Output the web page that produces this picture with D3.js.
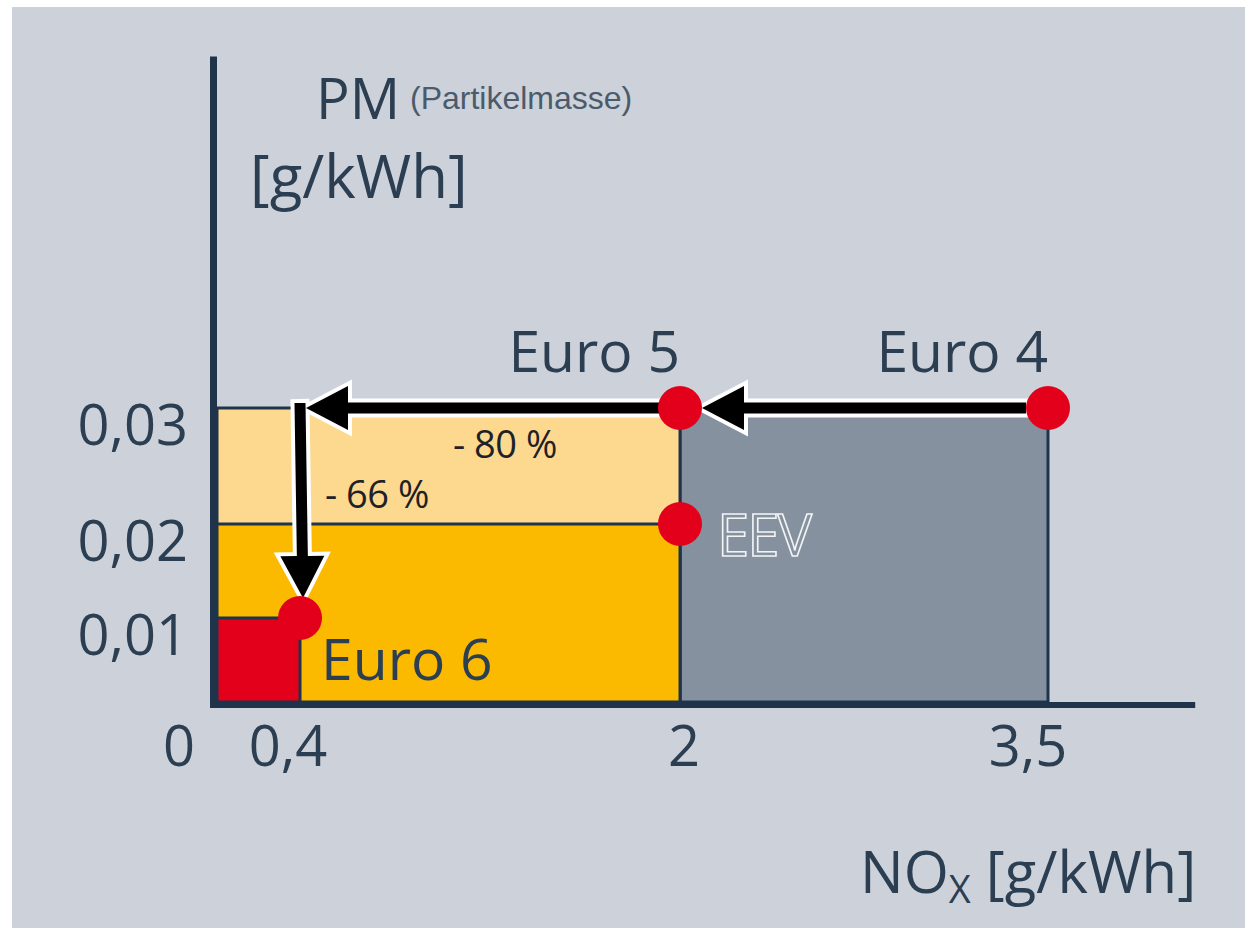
<!DOCTYPE html>
<html>
<head>
<meta charset="utf-8">
<script src="https://cdn.jsdelivr.net/npm/d3@7"></script>
<style>
  html, body { margin: 0; padding: 0; background: #ffffff; }
  svg { display: block; }
</style>
</head>
<body>
<svg id="chart" width="1245" height="930"></svg>
<script>
// Emission limits for heavy-duty engines: NOx vs. particulate mass
const standards = ["Euro 4", "Euro 5", "EEV", "Euro 6"];
const noxLimits = [3.5, 2, 2, 0.4];      // g/kWh
const pmLimits  = [0.03, 0.03, 0.02, 0.01]; // g/kWh

// Zones below each limit (drawn back to front)
const zoneNames = ["Euro 4", "Euro 5", "EEV", "Euro 6"];
const zoneX0    = [2, 0, 0, 0];
const zoneX1    = [3.5, 2, 2, 0.4];
const zoneY1    = [0.03, 0.03, 0.02, 0.01];
const zoneFill  = ["#86919f", "#fdd98f", "#fbb900", "#e2001a"];

// Axis ticks
const xTicks = [0, 0.4, 2, 3.5];
const xTickLabels = ["0", "0,4", "2", "3,5"];
const yTicks = [0.01, 0.02, 0.03];
const yTickLabels = ["0,01", "0,02", "0,03"];
const xAxisEnd = 4.1;
const yAxisEnd = 0.0603;

// Reduction labels
const reductionText = ["- 80 %", "- 66 %"];

const svg = d3.select("#chart");
const W = 1245, H = 930;
const ink = "#1f344a";
const textCol = "#2b3e52";

// Schematic (non-uniform) scales
const x = d3.scaleLinear().domain([0, 0.4, 2, 3.5]).range([217, 300, 680, 1048]);
const y = d3.scaleLinear().domain([0, 0.01, 0.02, 0.03]).range([702, 618, 524, 408]);

// Page background panel
svg.append("rect").attr("x", 0).attr("y", 0).attr("width", W).attr("height", H).attr("fill", "#ffffff");
svg.append("rect").attr("x", 12).attr("y", 7).attr("width", W - 12).attr("height", 921).attr("fill", "#cdd2da");

// Zones
const zones = zoneNames.map((n, i) => ({ n, x0: zoneX0[i], x1: zoneX1[i], y1: zoneY1[i], fill: zoneFill[i] }));
svg.append("g").selectAll("rect").data(zones).join("rect")
  .attr("x", d => x(d.x0))
  .attr("y", d => y(d.y1))
  .attr("width", d => x(d.x1) - x(d.x0))
  .attr("height", d => y(0) - y(d.y1))
  .attr("fill", d => d.fill)
  .attr("stroke", ink)
  .attr("stroke-width", 3);

// Axes
const axes = svg.append("g").attr("stroke", ink).attr("stroke-linecap", "butt");
axes.append("line")
  .attr("x1", x(0) - 3.5).attr("x2", x(0) - 3.5)
  .attr("y1", y(yAxisEnd)).attr("y2", y(0) + 6)
  .attr("stroke-width", 7);
axes.append("line")
  .attr("x1", x(0) - 7).attr("x2", x(xAxisEnd))
  .attr("y1", y(0) + 3).attr("y2", y(0) + 3)
  .attr("stroke-width", 6);

// Tick labels
const tickFont = "'Open Sans', sans-serif";
svg.append("g").selectAll("text").data(yTicks).join("text")
  .attr("x", 188)
  .attr("y", d => y(d) + 37)
  .attr("text-anchor", "end")
  .attr("font-family", tickFont)
  .attr("font-size", 56)
  .attr("fill", textCol)
  .text((d, i) => yTickLabels[i]);

svg.append("g").selectAll("text").data(xTicks).join("text")
  .attr("x", d => d === 0 ? x(d) - 38 : x(d) - 12 + (d === 2 ? 16 : 0) - (d === 3.5 ? 8 : 0))
  .attr("y", 766)
  .attr("text-anchor", "middle")
  .attr("font-family", tickFont)
  .attr("font-size", 56)
  .attr("fill", textCol)
  .text((d, i) => xTickLabels[i]);

// Axis titles
svg.append("text").attr("x", 316).attr("y", 119)
  .attr("font-family", tickFont).attr("font-size", 56).attr("fill", textCol)
  .text("PM");
svg.append("text").attr("x", 410).attr("y", 109)
  .attr("font-family", "'Liberation Sans', Arial, sans-serif").attr("font-size", 32)
  .attr("fill", "#4b5b6c").text("(Partikelmasse)");
svg.append("text").attr("x", 250).attr("y", 198)
  .attr("font-family", tickFont).attr("font-size", 60).attr("fill", textCol)
  .text("[g/kWh]");

const nox = svg.append("text").attr("x", 860).attr("y", 893)
  .attr("font-family", tickFont).attr("font-size", 58).attr("fill", textCol);
nox.append("tspan").text("NO");
nox.append("tspan").attr("font-size", 38).attr("dy", 10).text("X");
nox.append("tspan").attr("dy", -10).text(" [g/kWh]");

// Arrows (black with white outline)
function arrowPath(x0, y0, x1, y1, shaft, headLen, headHalf) {
  const dx = x1 - x0, dy = y1 - y0;
  const len = Math.hypot(dx, dy);
  const ux = dx / len, uy = dy / len;
  const px = -uy, py = ux;
  const bx = x1 - ux * headLen, by = y1 - uy * headLen;
  const s = shaft / 2;
  const pts = [
    [x0 + px * s, y0 + py * s],
    [bx + px * s, by + py * s],
    [bx + px * headHalf, by + py * headHalf],
    [x1, y1],
    [bx - px * headHalf, by - py * headHalf],
    [bx - px * s, by - py * s],
    [x0 - px * s, y0 - py * s]
  ];
  return d3.line()(pts) + "Z";
}
const arrows = [
  [x(0.4), y(0.03) - 5, x(0.4) + 3, y(0.01) - 20],
  [x(2) - 20, y(0.03), x(0.4) + 6, y(0.03)],
  [x(3.5) - 22, y(0.03), x(2) + 22, y(0.03)]
];
svg.append("g").selectAll("path.outline").data(arrows).join("path")
  .attr("class", "outline")
  .attr("d", d => arrowPath(d[0], d[1], d[2], d[3], 11, 42, 22))
  .attr("fill", "none").attr("stroke", "#ffffff").attr("stroke-width", 8)
  .attr("stroke-linejoin", "miter");
svg.append("g").selectAll("path.fill").data(arrows).join("path")
  .attr("class", "fill")
  .attr("d", d => arrowPath(d[0], d[1], d[2], d[3], 11, 42, 22))
  .attr("fill", "#000000");

// Reduction labels
svg.append("text").attr("x", 453).attr("y", 458)
  .attr("font-family", tickFont).attr("font-size", 38).attr("fill", "#1e2228")
  .attr("letter-spacing", -0.5)
  .text(reductionText[0]);
svg.append("text").attr("x", 325).attr("y", 508)
  .attr("font-family", tickFont).attr("font-size", 38).attr("fill", "#1e2228")
  .attr("letter-spacing", -0.5)
  .text(reductionText[1]);

// Limit points
const pts = standards.map((s, i) => ({ s, nox: noxLimits[i], pm: pmLimits[i] }));
svg.append("g").selectAll("circle").data(pts).join("circle")
  .attr("cx", d => x(d.nox))
  .attr("cy", d => y(d.pm))
  .attr("r", 22)
  .attr("fill", "#e2001a");

// Point labels
const lbl = svg.append("g").attr("font-family", tickFont).attr("font-size", 57).attr("fill", textCol);
lbl.append("text").attr("x", x(3.5)).attr("y", y(0.03) - 36).attr("text-anchor", "end").text(standards[0]);
lbl.append("text").attr("x", x(2)).attr("y", y(0.03) - 36).attr("text-anchor", "end").text(standards[1]);
lbl.append("text").attr("x", x(0.4) + 21).attr("y", y(0.01) + 62).text(standards[3]);
svg.append("text").attr("x", x(2) + 37).attr("y", y(0.02) + 32)
  .attr("font-family", tickFont).attr("font-size", 58)
  .attr("fill", "#86919f").attr("stroke", "#f2f4f6").attr("stroke-width", 1.6)
  .attr("letter-spacing", -2)
  .text(standards[2]);
</script>
</body>
</html>
